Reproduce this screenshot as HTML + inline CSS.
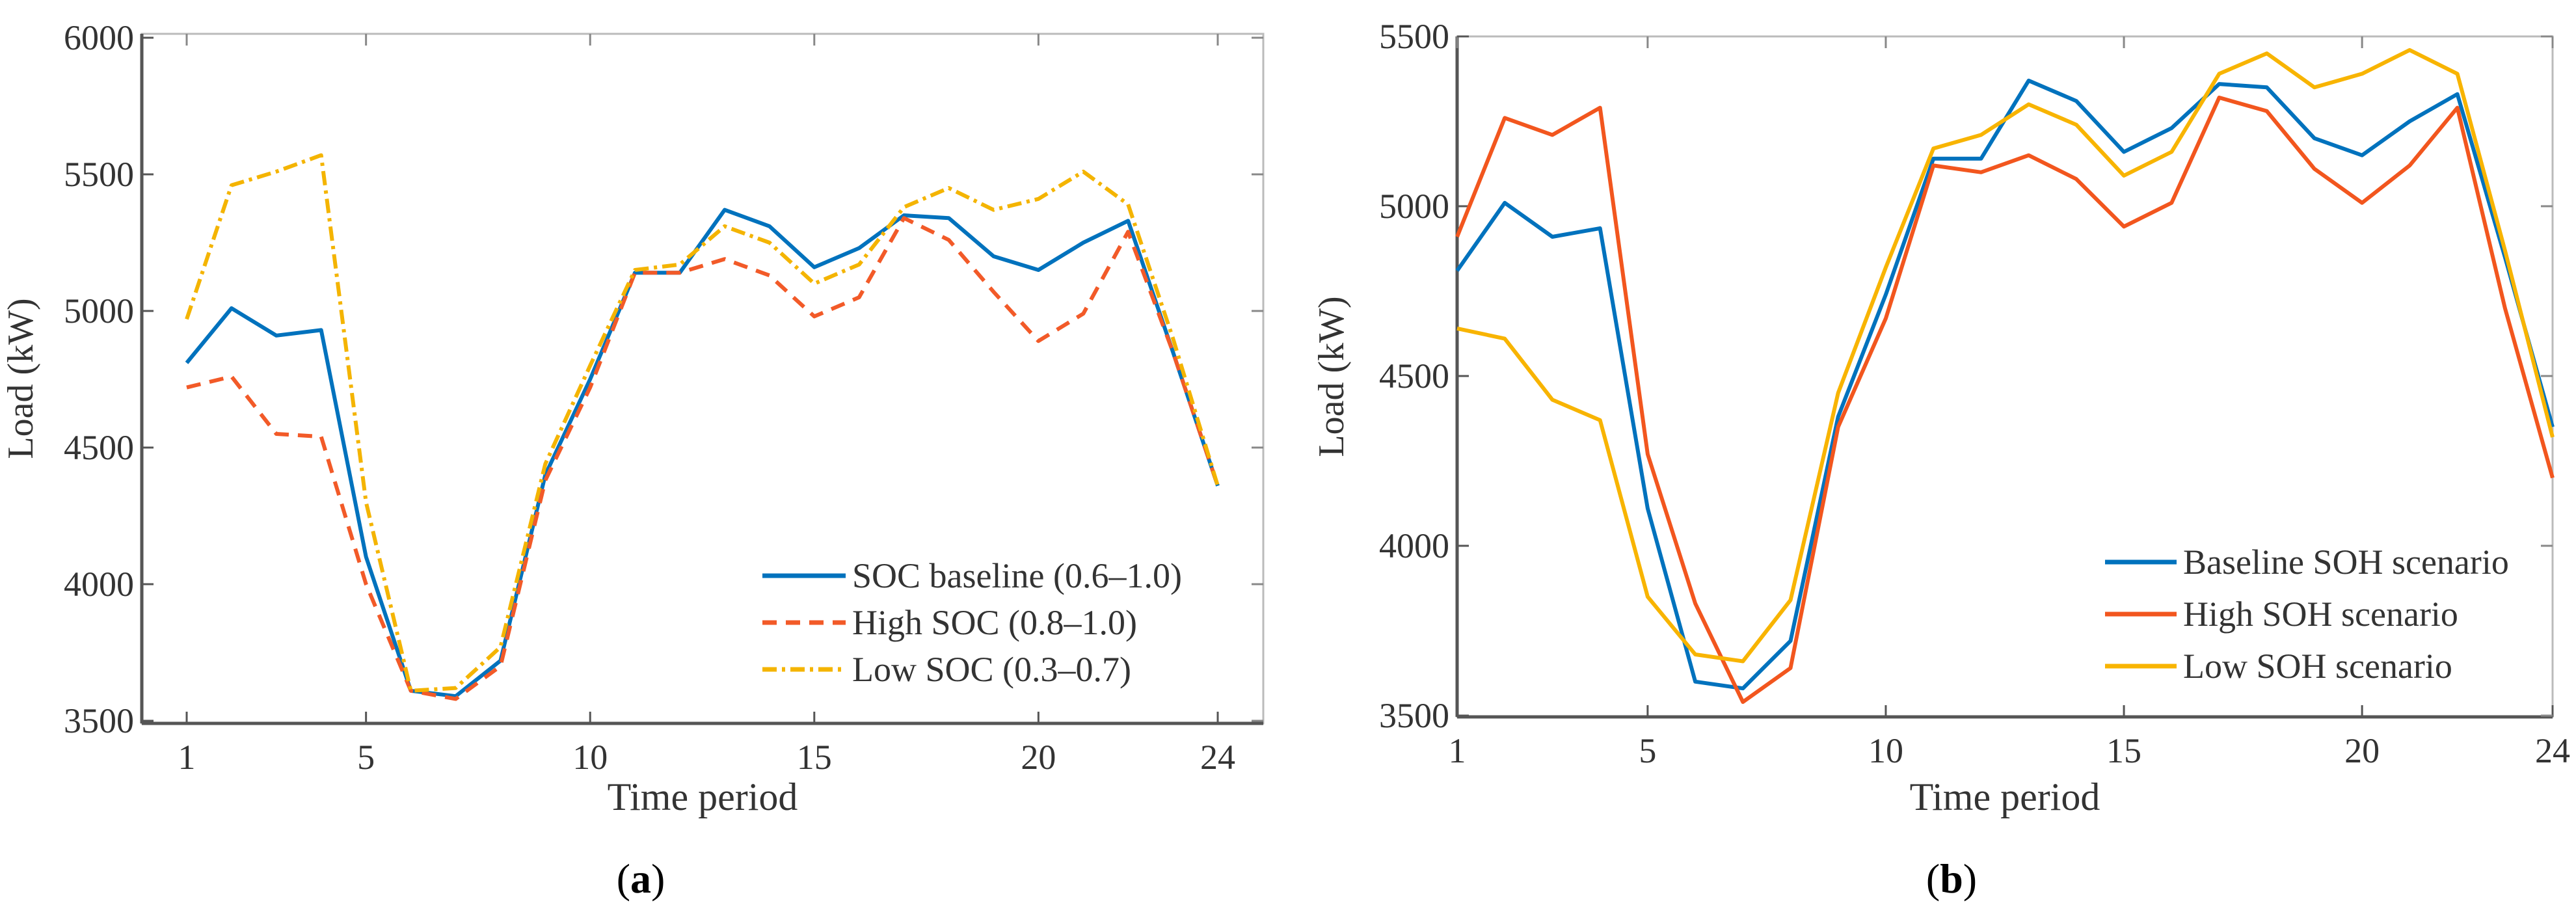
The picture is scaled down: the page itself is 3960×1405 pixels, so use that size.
<!DOCTYPE html>
<html><head><meta charset="utf-8"><style>
html,body{margin:0;padding:0;background:#fff;}
svg{display:block;}
text{font-family:"Liberation Serif",serif;fill:#333;}
</style></head>
<body>
<svg id="fig" width="3960" height="1405" viewBox="0 0 3960 1405"></svg>
<script>
const hours = [1,2,3,4,5,6,7,8,9,10,11,12,13,14,15,16,17,18,19,20,21,22,23,24];
const xTicks = [1,5,10,15,20,24];
const aYTicks = [3500,4000,4500,5000,5500,6000];
const bYTicks = [3500,4000,4500,5000,5500];
const aBaseline = [4810,5010,4910,4930,4100,3610,3590,3720,4400,4750,5140,5140,5370,5310,5160,5230,5350,5340,5200,5150,5250,5330,4850,4360];
const aHigh = [4720,4760,4550,4540,4000,3610,3580,3700,4380,4720,5140,5140,5190,5130,4980,5050,5340,5260,5070,4890,4990,5290,4850,4360];
const aLow = [4970,5460,5510,5570,4300,3610,3620,3770,4440,4800,5150,5170,5310,5250,5100,5170,5380,5450,5370,5410,5510,5390,4900,4360];
const bBaseline = [4810,5010,4910,4935,4110,3600,3580,3720,4380,4740,5140,5140,5370,5310,5160,5230,5360,5350,5200,5150,5250,5330,4850,4350];
const bHigh = [4910,5260,5210,5290,4270,3830,3540,3640,4350,4670,5120,5100,5150,5080,4940,5010,5320,5280,5110,5010,5120,5290,4700,4200];
const bLow = [4640,4610,4430,4370,3850,3680,3660,3840,4450,4820,5170,5210,5300,5240,5090,5160,5390,5450,5350,5390,5460,5390,4870,4320];
const aNames = ["SOC baseline (0.6\u20131.0)","High SOC (0.8\u20131.0)","Low SOC (0.3\u20130.7)"];
const bNames = ["Baseline SOH scenario","High SOH scenario","Low SOH scenario"];

const NS="http://www.w3.org/2000/svg";
const svg=document.getElementById('fig');
function mk(tag,attrs,parent){const e=document.createElementNS(NS,tag);for(const k in attrs)e.setAttribute(k,attrs[k]);(parent||svg).appendChild(e);return e;}

function panel(cfg){
  const g=mk('g',{});
  
  
  const X=v=>cfg.x1+(v-1)/(23)*(cfg.x24-cfg.x1);
  const Y=v=>cfg.bottom-(v-cfg.ymin)/(cfg.ymax-cfg.ymin)*(cfg.bottom-cfg.ytop);
  const box=mk('rect',{x:cfg.L,y:cfg.T,width:cfg.R-cfg.L,height:cfg.B-cfg.T,fill:'none',stroke:'#bbb','stroke-width':3},g);
  
  
  mk('line',{x1:cfg.L,y1:cfg.B,x2:cfg.R,y2:cfg.B,stroke:'#555','stroke-width':5},g);
  mk('line',{x1:cfg.L,y1:cfg.T,x2:cfg.L,y2:cfg.B,stroke:'#555','stroke-width':5},g);
  xTicks.forEach(t=>{
    const x=X(t);
    mk('line',{x1:x,y1:cfg.B,x2:x,y2:cfg.B-18,stroke:'#555','stroke-width':3},g);
    mk('line',{x1:x,y1:cfg.T,x2:x,y2:cfg.T+18,stroke:'#888','stroke-width':3},g);
    const tx=mk('text',{x:x,y:cfg.B+70,'font-size':54,'text-anchor':'middle'},g);
    tx.textContent=t;
    
    
  });
  cfg.yticks.forEach(t=>{
    const y=Y(t);
    mk('line',{x1:cfg.L,y1:y,x2:cfg.L+18,y2:y,stroke:'#555','stroke-width':3},g);
    mk('line',{x1:cfg.R,y1:y,x2:cfg.R-18,y2:y,stroke:'#888','stroke-width':3},g);
    const tx=mk('text',{x:cfg.L-12,y:y+18,'font-size':54,'text-anchor':'end'},g);
    tx.textContent=t;
    
    
  });
  cfg.series.forEach((s,i)=>{
    const pts=s.data.map((v,j)=>X(hours[j]).toFixed(1)+','+Y(v).toFixed(1)).join(' ');
    const p=mk('polyline',{points:pts,fill:'none',stroke:s.color,'stroke-width':6,'stroke-linejoin':'round','stroke-dasharray':s.dash||'none'},g);
    
    
    const ly=cfg.legY+i*cfg.legDy;
    const ll=mk('line',{x1:cfg.legX,y1:ly,x2:cfg.legX+cfg.legLen,y2:ly,stroke:s.color,'stroke-width':7,'stroke-dasharray':s.dash||'none'},g);
    
    
    const lt=mk('text',{x:cfg.legX+cfg.legLen+10,y:ly+18,'font-size':54},g);
    lt.textContent=s.label;
    
    
  });
  const yt=mk('text',{x:0,y:0,'font-size':56,'text-anchor':'middle',transform:`translate(${cfg.ylabX},${(cfg.T+cfg.B)/2}) rotate(-90)`,fill:'#555'},g);
  yt.textContent='Load (kW)';
  
  
  const xt=mk('text',{x:(cfg.L+cfg.R)/2,y:1245,'font-size':60,'text-anchor':'middle'},g);
  xt.textContent='Time period';
  
  
  const cap=mk('text',{x:cfg.capX,y:1372,'font-size':64,'text-anchor':'middle',style:'fill:#000'},g);
  cap.innerHTML='(<tspan font-weight="bold">'+cfg.cap+'</tspan>)';
  
  
}

panel({name:'chart-a',L:218,R:1942,T:52,B:1112,x1:287,x24:1872,ymin:3500,ymax:6000,ytop:58,bottom:1108,yticks:aYTicks,
  ylabX:50,cap:'a',capX:985,legX:1172,legY:885,legDy:72,legLen:128,
  series:[{data:aBaseline,color:'#0072BD',label:aNames[0]},{data:aHigh,color:'#F25A28',dash:'22 14',label:aNames[1]},{data:aLow,color:'#F4B400',dash:'22 8 5 8',label:aNames[2]}]});
panel({name:'chart-b',L:2240,R:3924,T:56,B:1102,x1:2240,x24:3924,ymin:3500,ymax:5500,ytop:56,bottom:1100,yticks:bYTicks,
  ylabX:2065,cap:'b',capX:3000,legX:3236,legY:864,legDy:80,legLen:110,
  series:[{data:bBaseline,color:'#0072BD',label:bNames[0]},{data:bHigh,color:'#F2561E',label:bNames[1]},{data:bLow,color:'#F8B400',label:bNames[2]}]});
</script>
</body></html>
